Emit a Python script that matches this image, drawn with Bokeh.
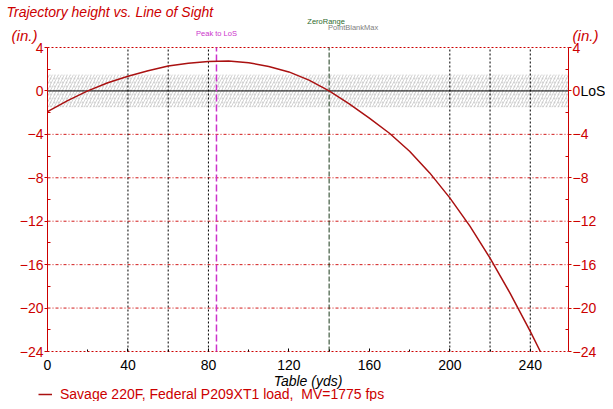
from bokeh.plotting import figure
from bokeh.models import Range1d, LinearAxis, FixedTicker, Label, Legend, LegendItem
from bokeh.embed import file_html
from bokeh.resources import INLINE

# ---- data ----
yds = [0, 10, 20, 30, 40, 50, 60, 70, 80, 90, 100, 110, 120, 130, 140,
       150, 160, 170, 180, 190, 200, 210, 220, 230, 240, 245]
height_in = [-1.9, -0.9, 0.0, 0.75, 1.35, 1.85, 2.3, 2.55, 2.72, 2.76, 2.6, 2.25,
             1.75, 1.0, 0.0, -1.2, -2.5, -3.9, -5.55, -7.55, -9.85, -12.45,
             -15.4, -18.65, -22.15, -24.0]
x_ticks = [0, 40, 80, 120, 160, 200, 240]
x_minor = [20, 60, 100, 140, 180, 220]
y_ticks = [4, 0, -4, -8, -12, -16, -20, -24]
y_minor = [2, -2, -6, -10, -14, -18, -22]
y_grid = [-4, -8, -12, -16, -20]
x_grid = [40, 60, 80, 200, 220, 240]
zero_range = 140
point_blank_max = 140
peak_x = 84
band_lo, band_hi = -1.5, 1.5
x_min, x_max = 0, 259
y_min, y_max = -24, 4
legend_text = "Savage 220F, Federal P209XT1 load,  MV=1775 fps"

RED = "#cc0000"
CURVE = "#aa1111"
FONT = "Liberation Sans"

# ---- layout: the frame spans the whole canvas; the plot box sits inside it ----
W, H = 605, 401
BOX_L, BOX_R, BOX_T, BOX_B = 47, 568, 47, 351   # pixel box of the data area
sx = (BOX_R - BOX_L) / (x_max - x_min)
sy = (BOX_B - BOX_T) / (y_max - y_min)
xr = Range1d(x_min - BOX_L / sx, x_max + (W - BOX_R) / sx)
yr = Range1d(y_min - (H - BOX_B) / sy, y_max + BOX_T / sy)

def px_x(px):
    return x_min + (px - BOX_L) / sx

def px_y(py):
    return y_max - (py - BOX_T) / sy

p = figure(width=W, height=H, output_backend="svg", toolbar_location=None,
           x_range=xr, y_range=yr, x_axis_location=None, y_axis_location=None,
           min_border=0, background_fill_color="white", border_fill_color="white")
p.outline_line_color = None
for g in p.grid:
    g.visible = False
    g.grid_line_color = None

# hatched band around the line of sight
p.quad(left=[x_min], right=[x_max], bottom=[band_lo], top=[band_hi],
       fill_alpha=0, line_alpha=0, hatch_pattern="/", hatch_color="#a8a8a8",
       hatch_scale=6, hatch_weight=0.6, hatch_alpha=0.85)
p.quad(left=[x_min], right=[x_max], bottom=[band_lo], top=[band_hi],
       fill_alpha=0, line_alpha=0, hatch_pattern=".", hatch_color="#c4c4c4",
       hatch_scale=4, hatch_weight=0.5, hatch_alpha=0.7)

# horizontal grid (red dash-dot) and top/bottom borders (red dotted)
p.segment(x0=[x_min] * len(y_grid), y0=y_grid, x1=[x_max] * len(y_grid), y1=y_grid,
          line_color=RED, line_dash="3 2 1 2", line_width=1, line_alpha=0.9)
p.segment(x0=[x_min, x_min], y0=[y_min, y_max], x1=[x_max, x_max], y1=[y_min, y_max],
          line_color=RED, line_dash="2 2", line_width=1)

# line of sight
p.segment(x0=[x_min], y0=[0], x1=[x_max], y1=[0], line_color="black", line_width=1)

# vertical grid lines
p.segment(x0=x_grid, y0=[y_min] * len(x_grid), x1=x_grid, y1=[y_max] * len(x_grid),
          line_color="black", line_dash="2 2", line_width=1)
p.segment(x0=[zero_range], y0=[y_min], x1=[zero_range], y1=[y_max],
          line_color="#1a3a1a", line_dash="5 2", line_width=1)
p.segment(x0=[peak_x], y0=[y_min], x1=[peak_x], y1=[y_max],
          line_color="#cc33cc", line_dash="7 3", line_width=1.5)

# trajectory
r = p.line(yds, height_in, line_color=CURVE, line_width=1.5)

# ---- axes drawn at the data box edges ----
xa = LinearAxis(fixed_location=y_min, bounds=(x_min, x_max))
xa.ticker = FixedTicker(ticks=x_ticks, minor_ticks=x_minor)
xa.axis_line_color = None
xa.major_tick_in = 3
xa.major_tick_out = 0
xa.minor_tick_in = 2
xa.minor_tick_out = 0
xa.major_tick_line_color = "black"
xa.minor_tick_line_color = "black"
xa.major_label_text_font = FONT
xa.major_label_text_font_size = "14px"
xa.major_label_text_color = "black"
xa.major_label_standoff = 8
xa.axis_label = "Table (yds)"
xa.axis_label_text_font = FONT
xa.axis_label_text_font_style = "italic"
xa.axis_label_text_font_size = "14px"
xa.axis_label_text_color = "black"
xa.axis_label_standoff = 0
p.add_layout(xa, "below")

def y_axis(loc):
    ax = LinearAxis(fixed_location=loc, bounds=(y_min, y_max))
    ax.ticker = FixedTicker(ticks=y_ticks, minor_ticks=y_minor)
    ax.axis_line_color = RED
    ax.major_tick_line_color = RED
    ax.minor_tick_line_color = RED
    ax.major_tick_in = 0
    ax.major_tick_out = 3
    ax.minor_tick_in = 3
    ax.minor_tick_out = 0
    ax.major_label_text_font = FONT
    ax.major_label_text_font_size = "14px"
    ax.major_label_text_color = RED
    ax.major_label_standoff = 1
    return ax

p.add_layout(y_axis(x_min), "left")
p.add_layout(y_axis(x_max), "right")

# ---- legend ----
legend = Legend(items=[LegendItem(label=legend_text, renderers=[r])],
                location=(38, -1), orientation="horizontal",
                border_line_alpha=0, background_fill_alpha=0,
                label_text_color=RED, label_text_font=FONT,
                label_text_font_size="14px", glyph_width=14, glyph_height=12,
                label_height=12, padding=0, margin=0, label_standoff=8)
p.add_layout(legend)

# ---- texts ----
def lab(x, y, t, color, size, style="normal", align="center", base="middle", xo=0):
    p.add_layout(Label(x=x, y=y, text=t, text_color=color, text_font=FONT,
                       text_font_size=size, text_font_style=style,
                       text_align=align, text_baseline=base, x_offset=xo))

lab(px_x(6), px_y(11), "Trajectory height vs. Line of Sight", RED, "14px", "italic", "left")
lab(px_x(24), px_y(35), "(in.)", RED, "15px", "italic")
lab(px_x(585), px_y(35), "(in.)", RED, "15px", "italic")
lab(px_x(580), 0, "LoS", "black", "14px", "normal", "left")
lab(peak_x, px_y(33), "Peak to LoS", "#cc33cc", "7.5px")
lab(zero_range, px_y(21), "ZeroRange", "#2e6b2e", "7.5px", xo=-3)
lab(point_blank_max, px_y(26.5), "PointBlankMax", "#808080", "7.5px", "normal", "left", xo=-1)

open("out.html", "w").write(file_html(p, INLINE))
